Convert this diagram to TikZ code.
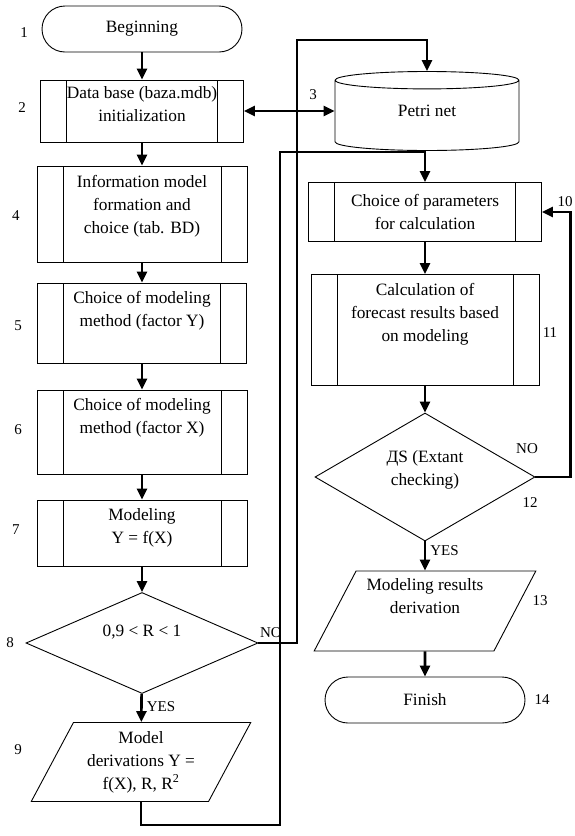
\documentclass[tikz,border=0pt]{standalone}
\usepackage{fontspec}
\setmainfont{Liberation Serif}
\usetikzlibrary{shapes.geometric,arrows.meta}

\tikzset{
  base/.style={draw, line width=0.9pt, align=center, inner sep=2pt,
    font=\fontsize{17.3}{23}\selectfont},
  term/.style={base, rounded corners=23pt, minimum width=200pt, minimum height=46pt},
  proc/.style={base, rectangle, path picture={
      \draw[line width=0.9pt]
        ([xshift=26pt]path picture bounding box.north west) -- ([xshift=26pt]path picture bounding box.south west)
        ([xshift=-26pt]path picture bounding box.north east) -- ([xshift=-26pt]path picture bounding box.south east);}},
  decide/.style={base, diamond, aspect=2},
  inout/.style={base, trapezium, trapezium left angle=62, trapezium right angle=118,
    trapezium stretches=true},
  store/.style={base, cylinder, shape border rotate=90, aspect=0.28},
  lift/.style={text depth=#1pt},
  num/.style={font=\fontsize{15}{18}\selectfont, inner sep=1pt},
  link/.style={line width=2.6pt},
  arr/.style={link, -{Triangle[length=11pt,width=10pt]}}
}

\begin{document}
\begin{tikzpicture}[x=1pt,y=-1pt]
  \useasboundingbox (0,0) rectangle (574,836);

  \node[term] (begin) at (142,29) {Beginning};
  \node[proc, minimum width=203pt, minimum height=62pt, lift=14] (db) at (142,111)
    {Data base (baza.mdb)\\initialization};
  \node[proc, minimum width=210pt, minimum height=96pt, lift=20] (info) at (142,214)
    {Information model\\formation and\\choice (tab. BD)};
  \node[proc, minimum width=209pt, minimum height=80pt, lift=28] (methy) at (142,323)
    {Choice of modeling\\method (factor Y)};
  \node[proc, minimum width=210pt, minimum height=84pt, lift=32] (methx) at (142,432)
    {Choice of modeling\\method (factor X)};
  \node[proc, minimum width=210pt, minimum height=66pt, lift=14] (model) at (142,533)
    {Modeling\\Y = f(X)};
  \node[decide, minimum width=232pt, minimum height=101pt, lift=24] (cond) at (142,643)
    {0,9 < R < 1};
  \node[inout, minimum width=220pt, minimum height=79pt] (deriv) at (141,762)
    {Model\\derivations Y =\\f(X), R, R\textsuperscript{2}};

  \node[store, minimum width=184pt, minimum height=79pt, anchor=shape center, lift=12] (petri) at (427,111)
    {Petri net};
  \node[proc, minimum width=233pt, minimum height=59pt] (calcpar) at (425,212)
    {Choice of parameters\\for calculation};
  \node[proc, minimum width=228pt, minimum height=111pt, lift=36] (calcres) at (425,330)
    {Calculation of\\forecast results based\\on modeling};
  \node[decide, minimum width=220pt, minimum height=128pt, lift=18] (check) at (425,477)
    {ДS (Extant\\checking)};
  \node[inout, minimum width=222pt, minimum height=80pt, lift=30] (result) at (425,611)
    {Modeling results\\derivation};
  \node[term] (finish) at (425,700) {Finish};

  \node[num] (n1) at (24,33) {1};
  \node[num] (n2) at (22,108) {2};
  \node[num] (n3) at (313,95) {3};
  \node[num] (n4) at (16,216) {4};
  \node[num] (n5) at (18,326) {5};
  \node[num] (n6) at (18,430) {6};
  \node[num] (n7) at (16,530) {7};
  \node[num] (n8) at (10,643) {8};
  \node[num] (n9) at (18,750) {9};
  \node[num] (n10) at (565,202) {10};
  \node[num] (n11) at (550,333) {11};
  \node[num] (n12) at (530,503) {12};
  \node[num] (n13) at (540,601) {13};
  \node[num] (n14) at (542,700) {14};

  \coordinate (noA) at (297,40);
  \coordinate (yesA) at (280,825);
  \coordinate (yesB) at (280,152);

  \draw[arr] (begin) -- (db);
  \draw[link, {Triangle[length=11pt,width=10pt]}-{Triangle[length=11pt,width=10pt]}] (db.east) -- (db.east -| petri.west);
  \draw[arr] (db) -- (info);
  \draw[arr] (info) -- (methy);
  \draw[arr] (methy) -- (methx);
  \draw[arr] (methx) -- (model);
  \draw[arr] (model) -- (cond);
  \draw[arr] (cond) -- node[num, pos=0.45, right=3pt] (yes1) {YES} (deriv);
  \draw[arr] (cond.east) -| (noA) -| (petri.north);
  \node[num] (no1) at (271,633) {NO};
  \draw[arr] (deriv.center |- deriv.south) |- (yesA) -- (yesB) -| (calcpar.north);
  \draw[arr] (calcpar) -- (calcres);
  \draw[arr] (calcres) -- (check);
  \draw[arr] (check.east) -- ++(35,0) |- (calcpar.east);
  \node[num] (no2) at (527,449) {NO};
  \draw[arr] (check) -- node[num, pos=0.3, right=3pt] (yes2) {YES} (result);
  \draw[arr] (result) -- (finish);
\end{tikzpicture}
\end{document}
